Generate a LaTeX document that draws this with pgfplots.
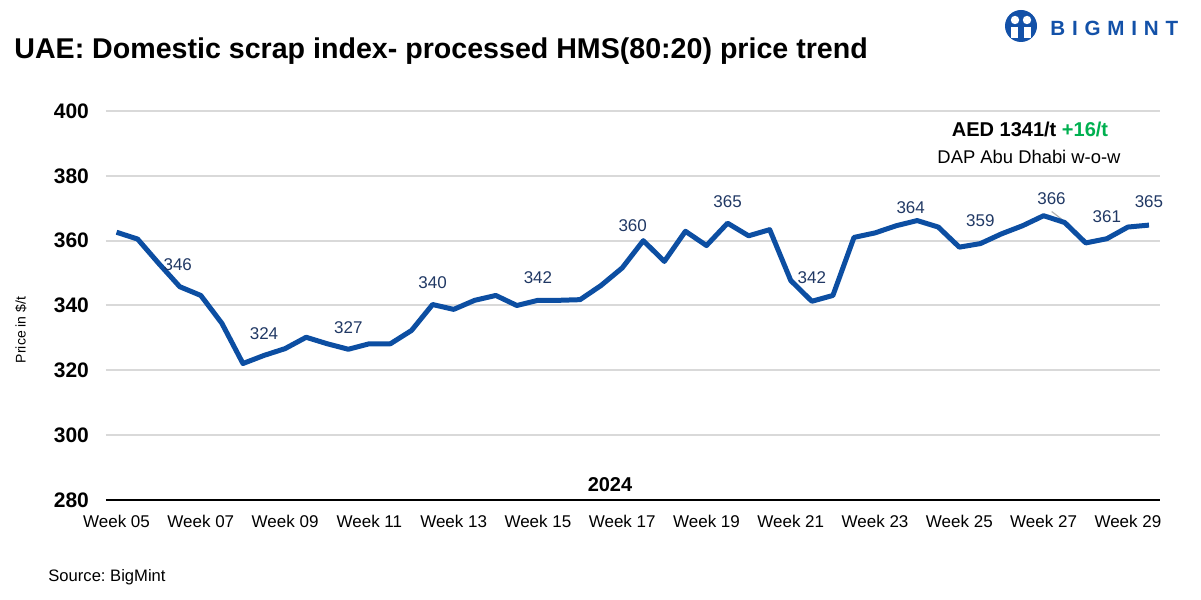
\documentclass[border=0pt]{standalone}
\usepackage{fontspec}
\setmainfont{Liberation Sans}
\usepackage{pgfplots}
\usepackage{pgfplotstable}
\pgfplotsset{compat=1.18}

\definecolor{lineblue}{RGB}{12,78,162}
\definecolor{lblnavy}{RGB}{32,56,100}
\definecolor{gridgray}{RGB}{217,217,217}
\definecolor{upgreen}{RGB}{0,176,80}
\definecolor{logoblue}{RGB}{19,81,168}

% two readings per week, Week 05 to Week 29
\pgfplotstableread{
i price
0 362.6
1 360.5
2 353.0
3 345.8
4 343.1
5 334.5
6 322.1
7 324.6
8 326.7
9 330.2
10 328.2
11 326.5
12 328.2
13 328.2
14 332.3
15 340.3
16 338.8
17 341.6
18 343.1
19 340.0
20 341.6
21 341.6
22 341.8
23 346.2
24 351.6
25 360.0
26 353.6
27 362.9
28 358.5
29 365.4
30 361.5
31 363.4
32 347.7
33 341.3
34 343.1
35 361.0
36 362.4
37 364.6
38 366.2
39 364.2
40 358.0
41 359.1
42 362.1
43 364.6
44 367.7
45 365.6
46 359.3
47 360.6
48 364.2
49 364.8
}\pricedata

\tikzset{lbl/.style={font=\fontsize{8.5}{10}\selectfont, text=lblnavy}}
\frenchspacing

\begin{document}
\begin{tikzpicture}[x=0.5pt,y=0.5pt]
\path[use as bounding box] (0,0) rectangle (1201,600);

% title and logo
\node[anchor=west, inner sep=0pt, font=\bfseries\fontsize{14.3}{16}\selectfont] at (14,549) {UAE: Domestic scrap index- processed HMS(80:20) price trend};
\fill[logoblue] (1021,574) circle (16);
\fill[white] (1015,580) circle (4.2);
\fill[white] (1027,580) circle (4.2);
\fill[white] (1011,573) rectangle (1018,562);
\fill[white] (1024,573) rectangle (1031,562);
\node[anchor=west, inner sep=0pt, text=logoblue, font=\bfseries\fontsize{10.3}{12}\selectfont\addfontfeature{LetterSpace=33}] at (1050,572) {BIGMINT};

\node[rotate=90, font=\fontsize{7}{8}\selectfont] at (21,270) {Price in \$/t};

\begin{axis}[
    at={(53pt,50pt)}, anchor=south west, scale only axis,
    width=526.75pt, height=194.5pt,
    xmin=-0.5, xmax=49.5, ymin=280, ymax=400,
    axis lines*=left,
    y axis line style={draw=none},
    x axis line style={black, line width=1.2pt, -},
    major tick length=0pt,
    ymajorgrids, grid style={gridgray, line width=1pt},
    xtick={0,4,...,48},
    xticklabels={Week 05,Week 07,Week 09,Week 11,Week 13,Week 15,Week 17,Week 19,Week 21,Week 23,Week 25,Week 27,Week 29},
    ytick={280,300,...,400},
    /pgf/number format/assume math mode=true,
    xticklabel style={font=\fontsize{8.5}{10}\selectfont, yshift=-4pt},
    yticklabel style={font=\bfseries\fontsize{10.5}{12}\selectfont, xshift=-5pt},
    clip=false,
]
\draw[gray!60, line width=0.6pt] (axis cs:45,365.6) ++(-6.5pt,5.5pt) -- ++(6.5pt,-5pt);
\addplot[lineblue, line width=2.5pt, line join=round] table[x=i, y=price] {\pricedata};
\node[lbl, xshift=-1pt, yshift=11pt] at (axis cs:3,345.8) {346};
\node[lbl, yshift=11pt] at (axis cs:7,324.6) {324};
\node[lbl, yshift=11pt] at (axis cs:11,326.5) {327};
\node[lbl, yshift=11pt] at (axis cs:15,340.3) {340};
\node[lbl, yshift=11.5pt] at (axis cs:20,341.6) {342};
\node[lbl, xshift=-5.3pt, yshift=7.7pt] at (axis cs:25,360.0) {360};
\node[lbl, yshift=11pt] at (axis cs:29,365.4) {365};
\node[lbl, yshift=12pt] at (axis cs:33,341.3) {342};
\node[lbl, xshift=7.3pt, yshift=9.2pt] at (axis cs:37,364.6) {364};
\node[lbl, yshift=11.5pt] at (axis cs:41,359.1) {359};
\node[lbl, xshift=-6.6pt, yshift=11.8pt] at (axis cs:45,365.6) {366};
\node[lbl, yshift=11pt] at (axis cs:47,360.6) {361};
\node[lbl, yshift=11.5pt] at (axis cs:49,364.8) {365};
\end{axis}

\node[font=\bfseries\fontsize{10}{12}\selectfont] at (610,115) {2024};
\node[font=\bfseries\fontsize{10}{12}\selectfont] at (1030,471) {AED 1341/t \textcolor{upgreen}{+16/t}};
\node[font=\fontsize{9.2}{11}\selectfont] at (1029,443) {DAP Abu Dhabi w-o-w};
\node[anchor=west, inner sep=0pt, font=\fontsize{8.3}{10}\selectfont] at (48,23) {Source: BigMint};
\end{tikzpicture}
\end{document}
